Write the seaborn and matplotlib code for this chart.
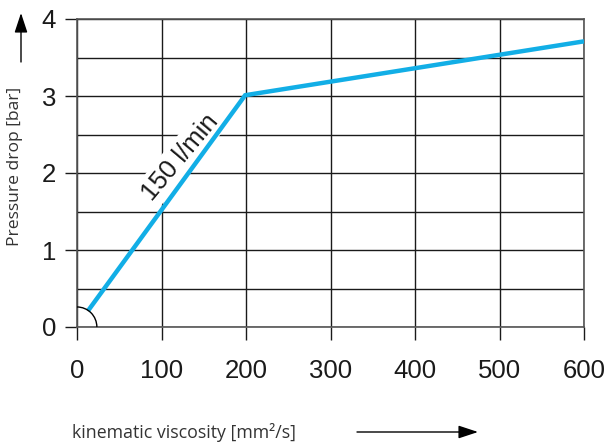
import matplotlib
matplotlib.use("Agg")
import matplotlib.pyplot as plt
from matplotlib.patches import Arc
import seaborn as sns
import pandas as pd

# data
viscosity = [13, 199, 600]
pressure = [0.21, 3.01, 3.71]
x_ticks = [0, 100, 200, 300, 400, 500, 600]
y_ticks = [0, 1, 2, 3, 4]
y_minor = [0.5, 1.5, 2.5, 3.5]
curve_label = "150 l/min"

sns.set_theme(style="white")
plt.rcParams['font.family'] = ['Liberation Sans', 'DejaVu Sans']

W, H = 607, 445
fig = plt.figure(figsize=(W / 100, H / 100), dpi=100)
ax = fig.add_axes([77 / W, 1 - 327 / H, (584 - 77) / W, (327 - 19) / H])

df = pd.DataFrame({"v": viscosity, "p": pressure})
sns.lineplot(data=df, x="v", y="p", ax=ax, color="#12AEE6", linewidth=3.2,
             solid_capstyle="butt", solid_joinstyle="miter", zorder=5)

ax.set_xlim(0, 600)
ax.set_ylim(0, 4)
ax.set_xticks(x_ticks)
ax.set_yticks(y_ticks)
ax.set_yticks(y_minor, minor=True)
ax.set_xticklabels([str(t) for t in x_ticks])
ax.set_yticklabels([str(t) for t in y_ticks])
gc = "#1a1a1a"
ax.grid(True, which="major", color=gc, linewidth=1.0, zorder=1)
ax.grid(True, which="minor", axis="y", color=gc, linewidth=1.0, zorder=1)
ax.tick_params(axis="x", which="major", length=9, width=1, color=gc, pad=14,
               labelsize=18.5, labelcolor="#1a1a1a", bottom=True)
ax.tick_params(axis="y", which="major", length=9, width=1, color=gc, pad=6,
               labelsize=18.5, labelcolor="#1a1a1a", left=True)
ax.tick_params(axis="y", which="minor", length=0)
for s in ax.spines.values():
    s.set_color("#555555")
    s.set_linewidth(1.2)
ax.set_xlabel("")
ax.set_ylabel("")

# quarter arc at origin
ax.add_patch(Arc((0, 0), 47, 0.52, theta1=0, theta2=90, color="black",
                 linewidth=1.0, clip_on=False, zorder=6))

# curve label
ax.text(122, 2.2, curve_label, rotation=50, rotation_mode="anchor",
        ha="center", va="center", fontsize=18.5, color="#1a1a1a", zorder=4,
        bbox=dict(facecolor="white", edgecolor="none", pad=3))

# axis labels and arrows (figure pixel coords)
def fx(px):
    return px / W

def fy(py):
    return 1 - py / H

fig.text(fx(15), fy(166), "Pressure drop [bar]", rotation=90, ha="center",
         va="center", fontsize=12.6, color="#333333", family=["Open Sans", "DejaVu Sans"])
fig.text(fx(72), fy(433), "kinematic viscosity [mm²/s]", ha="left",
         va="center", fontsize=12.8, color="#333333", family=["Open Sans", "DejaVu Sans"])
ax.annotate("", xy=(fx(21), fy(13)), xytext=(fx(21), fy(62)),
            xycoords="figure fraction", textcoords="figure fraction",
            arrowprops=dict(arrowstyle="-|>,head_length=1.0,head_width=0.33",
                            color="black", linewidth=1.0, shrinkA=0, shrinkB=0))
ax.annotate("", xy=(fx(478), fy(432)), xytext=(fx(357), fy(432)),
            xycoords="figure fraction", textcoords="figure fraction",
            arrowprops=dict(arrowstyle="-|>,head_length=1.0,head_width=0.33",
                            color="black", linewidth=1.0, shrinkA=0, shrinkB=0))

fig.savefig("out.png", dpi=100)
